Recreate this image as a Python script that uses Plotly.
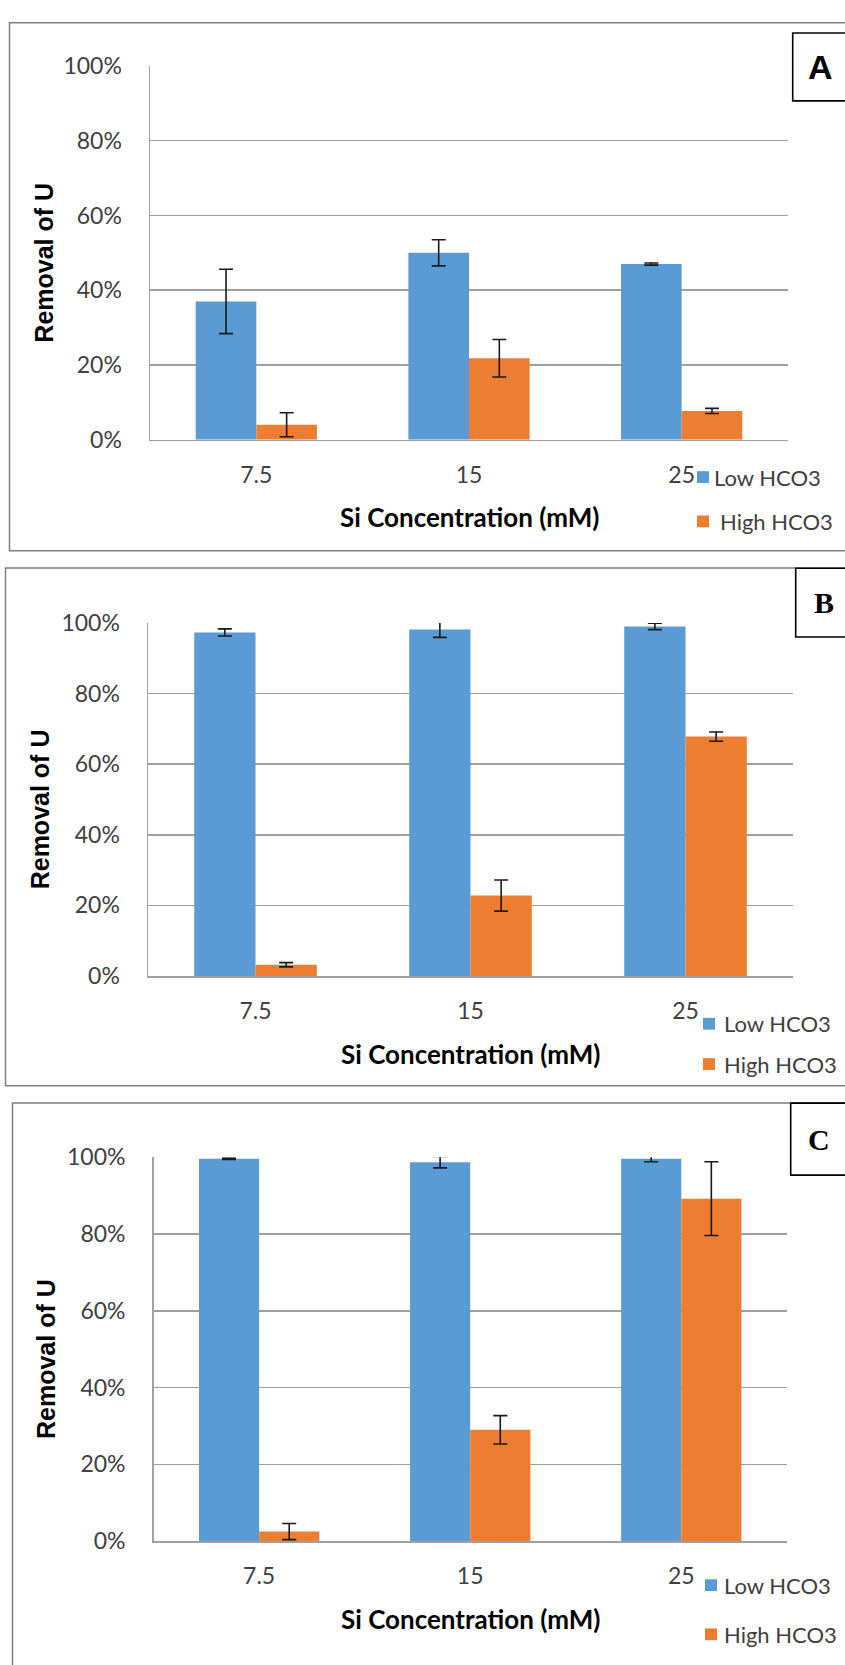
import plotly.graph_objects as go

W, H = 845, 1665

categories = ["7.5", "15", "25"]
series_names = ["Low HCO3", "High HCO3"]
panel_labels = ["A", "B", "C"]

a_low = [0.370, 0.500, 0.470]
a_low_err = [0.086, 0.035, 0.003]
a_high = [0.040, 0.218, 0.077]
a_high_err = [0.032, 0.050, 0.007]

b_low = [0.973, 0.981, 0.990]
b_low_err = [0.010, 0.022, 0.009]
b_high = [0.032, 0.228, 0.678]
b_high_err = [0.006, 0.044, 0.013]

c_low = [0.996, 0.987, 0.996]
c_low_err = [0.002, 0.015, 0.008]
c_high = [0.025, 0.290, 0.892]
c_high_err = [0.021, 0.037, 0.096]

y_ticks = [0, 0.2, 0.4, 0.6, 0.8, 1.0]

BLUE = "#5B9BD5"
ORANGE = "#ED7D31"
GRID = "#A0A0A0"
TICKFONT = dict(family="Lato", size=23, color="#404040")


def px(x):
    return x / W


def py(y):
    return 1 - y / H


# layout geometry of each panel (pixels)
panels = [
    dict(low=a_low, low_err=a_low_err, high=a_high, high_err=a_high_err,
         x0=150, x1=788, y100=51.8, y0=432,
         border=(9.5, 8, 900, 545), box=(792.7, 18.3, 900, 87.3),
         boxfont=dict(family="Liberation Sans", size=34, color="black"), boxtext="<b>A</b>",
         ytitle_x=44, leg_y=(470, 515), leg_sq=697, leg_tx=(712, 718)),
    dict(low=b_low, low_err=b_low_err, high=b_high, high_err=b_high_err,
         x0=148, x1=793, y100=618.3, y0=977.5,
         border=(5.5, 562.5, 900, 1089), box=(795.7, 562.7, 900, 632.7),
         boxfont=dict(family="Liberation Serif", size=30, color="black"), boxtext="<b>B</b>",
         ytitle_x=40, leg_y=(1026, 1067), leg_sq=703, leg_tx=(722, 722)),
    dict(low=c_low, low_err=c_low_err, high=c_high, high_err=c_high_err,
         x0=153.6, x1=786.8, y100=1161.7, y0=1552.3,
         border=(12.5, 1106.7, 900, 1700), box=(790.7, 1106.7, 900, 1180),
         boxfont=dict(family="Liberation Serif", size=30, color="black"), boxtext="<b>C</b>",
         ytitle_x=46, leg_y=(1597, 1647), leg_sq=705, leg_tx=(722, 722)),
]

fig = go.Figure()
shapes = []
annotations = []

for i, p in enumerate(panels):
    n = "" if i == 0 else str(i + 1)
    xa, ya = "x" + n, "y" + n
    for name, vals, errs, col in [(series_names[0], p["low"], p["low_err"], BLUE),
                                  (series_names[1], p["high"], p["high_err"], ORANGE)]:
        fig.add_trace(go.Bar(
            x=categories, y=vals, name=name, xaxis=xa, yaxis=ya,
            marker=dict(color=col, line=dict(width=0)),
            error_y=dict(type="data", array=errs, visible=True, color="#1a1a1a",
                         thickness=1.6, width=7),
            showlegend=False, cliponaxis=False,
        ))

    fig.layout["xaxis" + n] = dict(
        domain=[px(p["x0"]), px(p["x1"])], anchor=ya, type="category",
        showgrid=False, showline=True, linecolor=GRID, linewidth=1.5,
        ticks="", tickfont=TICKFONT, ticklabelstandoff=14, zeroline=False,
        fixedrange=True,
    )
    fig.layout["yaxis" + n] = dict(
        domain=[py(p["y0"]), py(p["y100"])], anchor=xa, range=[0, 1],
        tickvals=y_ticks, tickformat=".0%", showgrid=True, gridcolor=GRID,
        gridwidth=1.5, showline=True, linecolor=GRID, linewidth=1.5,
        zeroline=False, ticks="", tickfont=TICKFONT, ticklabelstandoff=22,
        fixedrange=True,
    )

    # panel border
    bx0, by0, bx1, by1 = p["border"]
    shapes.append(dict(type="rect", xref="paper", yref="paper",
                       x0=px(bx0), x1=px(bx1), y0=py(by1), y1=py(by0),
                       line=dict(color="#7F7F7F", width=1.5), fillcolor="rgba(0,0,0,0)",
                       layer="below"))
    # label box
    lx0, ly0, lx1, ly1 = p["box"]
    shapes.append(dict(type="rect", xref="paper", yref="paper",
                       x0=px(lx0), x1=px(lx1), y0=py(ly1), y1=py(ly0),
                       line=dict(color="black", width=1.6), fillcolor="white",
                       layer="above"))
    annotations.append(dict(xref="paper", yref="paper", x=px(lx0 + 28), y=py((ly0 + ly1) / 2),
                            text=p["boxtext"], showarrow=False, font=p["boxfont"],
                            xanchor="center", yanchor="middle"))

    # y axis title
    annotations.append(dict(xref="paper", yref="paper", x=px(p["ytitle_x"]),
                            y=py((p["y0"] + p["y100"]) / 2 + 10),
                            text="<b>Removal of U</b>", textangle=-90, showarrow=False,
                            font=dict(family="Liberation Sans", size=25, color="black"),
                            xanchor="center", yanchor="middle"))
    # x axis title
    annotations.append(dict(xref="paper", yref="paper", x=px((p["x0"] + p["x1"]) / 2),
                            y=py(p["y0"] + 79),
                            text="<b>Si Concentration (mM)</b>", showarrow=False,
                            font=dict(family="Lato", size=26, color="black"),
                            xanchor="center", yanchor="middle"))
    # legend (manual)
    for k, (name, col) in enumerate([(series_names[0], BLUE), (series_names[1], ORANGE)]):
        yc = p["leg_y"][k]
        shapes.append(dict(type="rect", xref="paper", yref="paper",
                           x0=px(p["leg_sq"]), x1=px(p["leg_sq"] + 12),
                           y0=py(yc + 6), y1=py(yc - 6),
                           line=dict(width=0), fillcolor=col))
        annotations.append(dict(xref="paper", yref="paper", x=px(p["leg_tx"][k]), y=py(yc),
                                text=name, showarrow=False,
                                font=dict(family="Lato", size=22, color="#404040"),
                                xanchor="left", yanchor="middle"))

fig.update_layout(
    width=W, height=H, margin=dict(l=0, r=0, t=0, b=0),
    paper_bgcolor="white", plot_bgcolor="white",
    barmode="group", bargap=0.43, bargroupgap=0,
    shapes=shapes, annotations=annotations,
    font=dict(family="Lato"),
)

fig.write_html(
    "out.html",
    config={"displayModeBar": False, "staticPlot": True},
    post_script="document.body.style.margin='0';document.body.style.overflow='hidden';",
)
